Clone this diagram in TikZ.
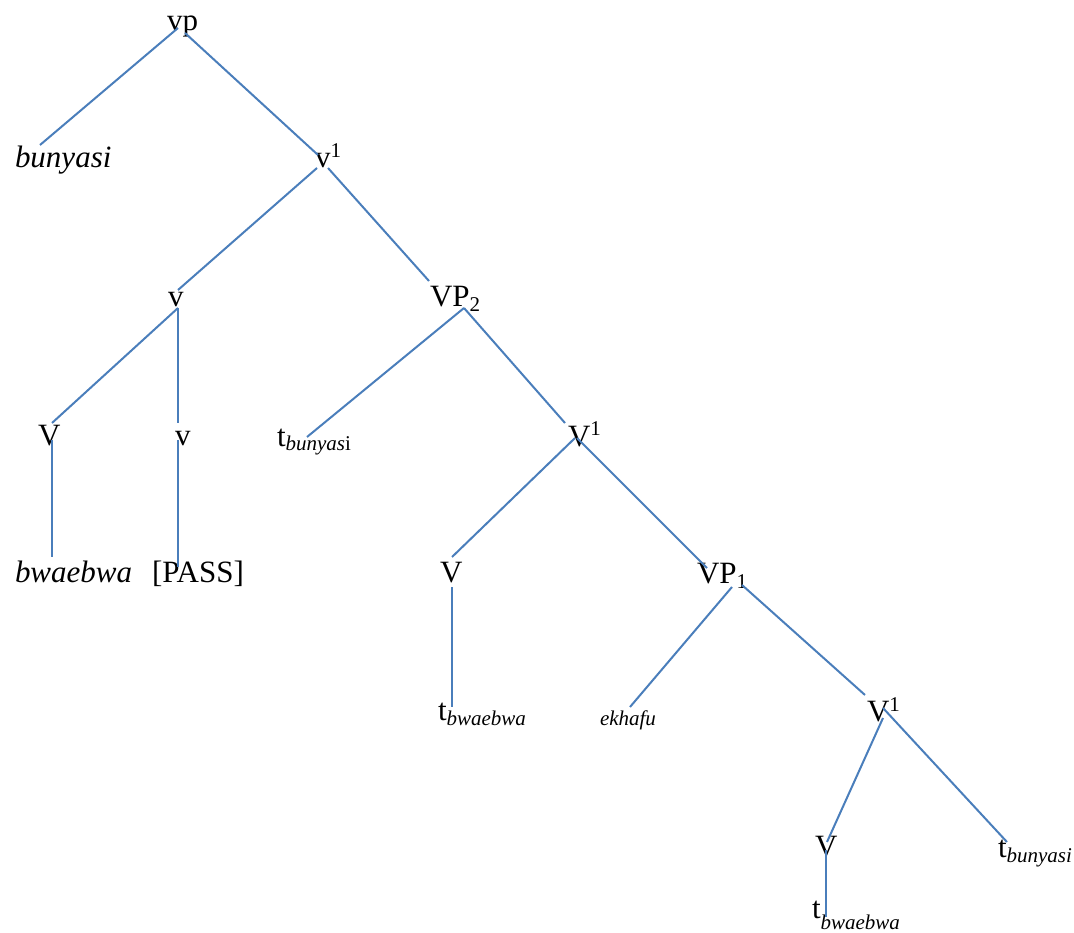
\documentclass[tikz,border=0pt]{standalone}
\usepackage{fontspec}
\setmainfont{Liberation Serif}
\definecolor{branchblue}{RGB}{74,126,187}
\newcommand\bigtxt{\fontsize{31}{37}\selectfont}
\newcommand\smalltxt{\fontsize{21}{25}\selectfont}
\newcommand\lblsup[1]{\raisebox{10pt}{\smalltxt #1}}
\newcommand\lblsub[2][5pt]{\raisebox{-#1}{\smalltxt #2}}
\tikzset{
  lbl/.style={anchor=base west, inner sep=0pt, outer sep=0pt, font=\bigtxt},
  lblit/.style={lbl, font=\bigtxt\itshape},
  branch/.style={draw=branchblue, line width=2pt},
}
\begin{document}
\begin{tikzpicture}[x=1pt, y=-1pt]
\useasboundingbox (0,0) rectangle (1074,933);

% labels
\node[lbl]   (vp)      at (167,31)  {vp};
\node[lblit] (bunyasi) at (15,168)  {bunyasi};
\node[lbl]   (vbar)    at (315,168) {v\lblsup{1}};
\node[lbl]   (vhead)   at (168,307) {v};
\node[lbl]   (VPtwo)   at (430,307) {VP\lblsub{2}};
\node[lbl]   (Vhigh)   at (38,445)  {V};
\node[lbl]   (vpass)   at (175,445) {v};
\node[lbl]   (tbunA)   at (277,446) {t\lblsub{\textit{bunyas}i}};
\node[lbl]   (Vbartwo) at (568,446) {V\lblsup{1}};
\node[lblit] (bwaebwa) at (15,582)  {bwaebwa};
\node[lbl]   (pass)    at (152,582) {[PASS]};
\node[lbl]   (Vmid)    at (440,582) {V};
\node[lbl]   (VPone)   at (697,583) {VP\lblsub{1}};
\node[lbl]   (tbwA)    at (438,720) {t\lblsub{\textit{bwaebwa}}};
\node[lbl, font=\smalltxt\itshape] (ekhafu) at (600,725) {ekhafu};
\node[lbl]   (Vbarone) at (867,721) {V\lblsup{1}};
\node[lbl]   (Vlow)    at (815,856) {V};
\node[lbl]   (tbunB)   at (998,857) {t\lblsub{\textit{bunyasi}}};
\node[lbl]   (tbwB)    at (812,918) {t\lblsub[11pt]{\textit{bwaebwa}}};

% branch end points
\coordinate (vp-l)     at (178,28);
\coordinate (vp-r)     at (185,33);
\coordinate (bun-t)    at (40,145);
\coordinate (vbar-t)   at (318,155);
\coordinate (vbar-l)   at (317,168);
\coordinate (vbar-r)   at (328,168);
\coordinate (vhead-t)  at (178,290);
\coordinate (VPtwo-t)  at (429,281);
\coordinate (vhead-b)  at (178,308);
\coordinate (Vhigh-t)  at (52,423);
\coordinate (vpass-t)  at (178,423);
\coordinate (Vhigh-b)  at (52,440);
\coordinate (bwa-t)    at (52,557);
\coordinate (vpass-b)  at (178,440);
\coordinate (pass-t)   at (178,567);
\coordinate (VPtwo-b)  at (464,308);
\coordinate (tbunA-t)  at (307,437);
\coordinate (Vbartwo-t) at (565,423);
\coordinate (Vbartwo-l) at (575,438);
\coordinate (Vbartwo-r) at (577,438);
\coordinate (Vmid-t)   at (452,557);
\coordinate (VPone-t)  at (707,568);
\coordinate (Vmid-b)   at (452,587);
\coordinate (tbwA-t)   at (452,707);
\coordinate (VPone-l)  at (732,587);
\coordinate (VPone-r)  at (742,585);
\coordinate (ekhafu-t) at (630,707);
\coordinate (Vbarone-t) at (865,695);
\coordinate (Vbarone-l) at (883,718);
\coordinate (Vbarone-r) at (883,708);
\coordinate (Vlow-t)   at (827,842);
\coordinate (tbunB-t)  at (1007,842);
\coordinate (Vlow-b)   at (826,850);
\coordinate (tbwB-t)   at (826,917);

% branches
\draw[branch] (vp-l) -- (bun-t);
\draw[branch] (vp-r) -- (vbar-t);
\draw[branch] (vbar-l) -- (vhead-t);
\draw[branch] (vbar-r) -- (VPtwo-t);
\draw[branch] (vhead-b) -- (Vhigh-t);
\draw[branch] (vhead-b) -- (vpass-t);
\draw[branch] (Vhigh-b) -- (bwa-t);
\draw[branch] (vpass-b) -- (pass-t);
\draw[branch] (VPtwo-b) -- (tbunA-t);
\draw[branch] (VPtwo-b) -- (Vbartwo-t);
\draw[branch] (Vbartwo-l) -- (Vmid-t);
\draw[branch] (Vbartwo-r) -- (VPone-t);
\draw[branch] (Vmid-b) -- (tbwA-t);
\draw[branch] (VPone-l) -- (ekhafu-t);
\draw[branch] (VPone-r) -- (Vbarone-t);
\draw[branch] (Vbarone-l) -- (Vlow-t);
\draw[branch] (Vbarone-r) -- (tbunB-t);
\draw[branch] (Vlow-b) -- (tbwB-t);
\end{tikzpicture}
\end{document}
